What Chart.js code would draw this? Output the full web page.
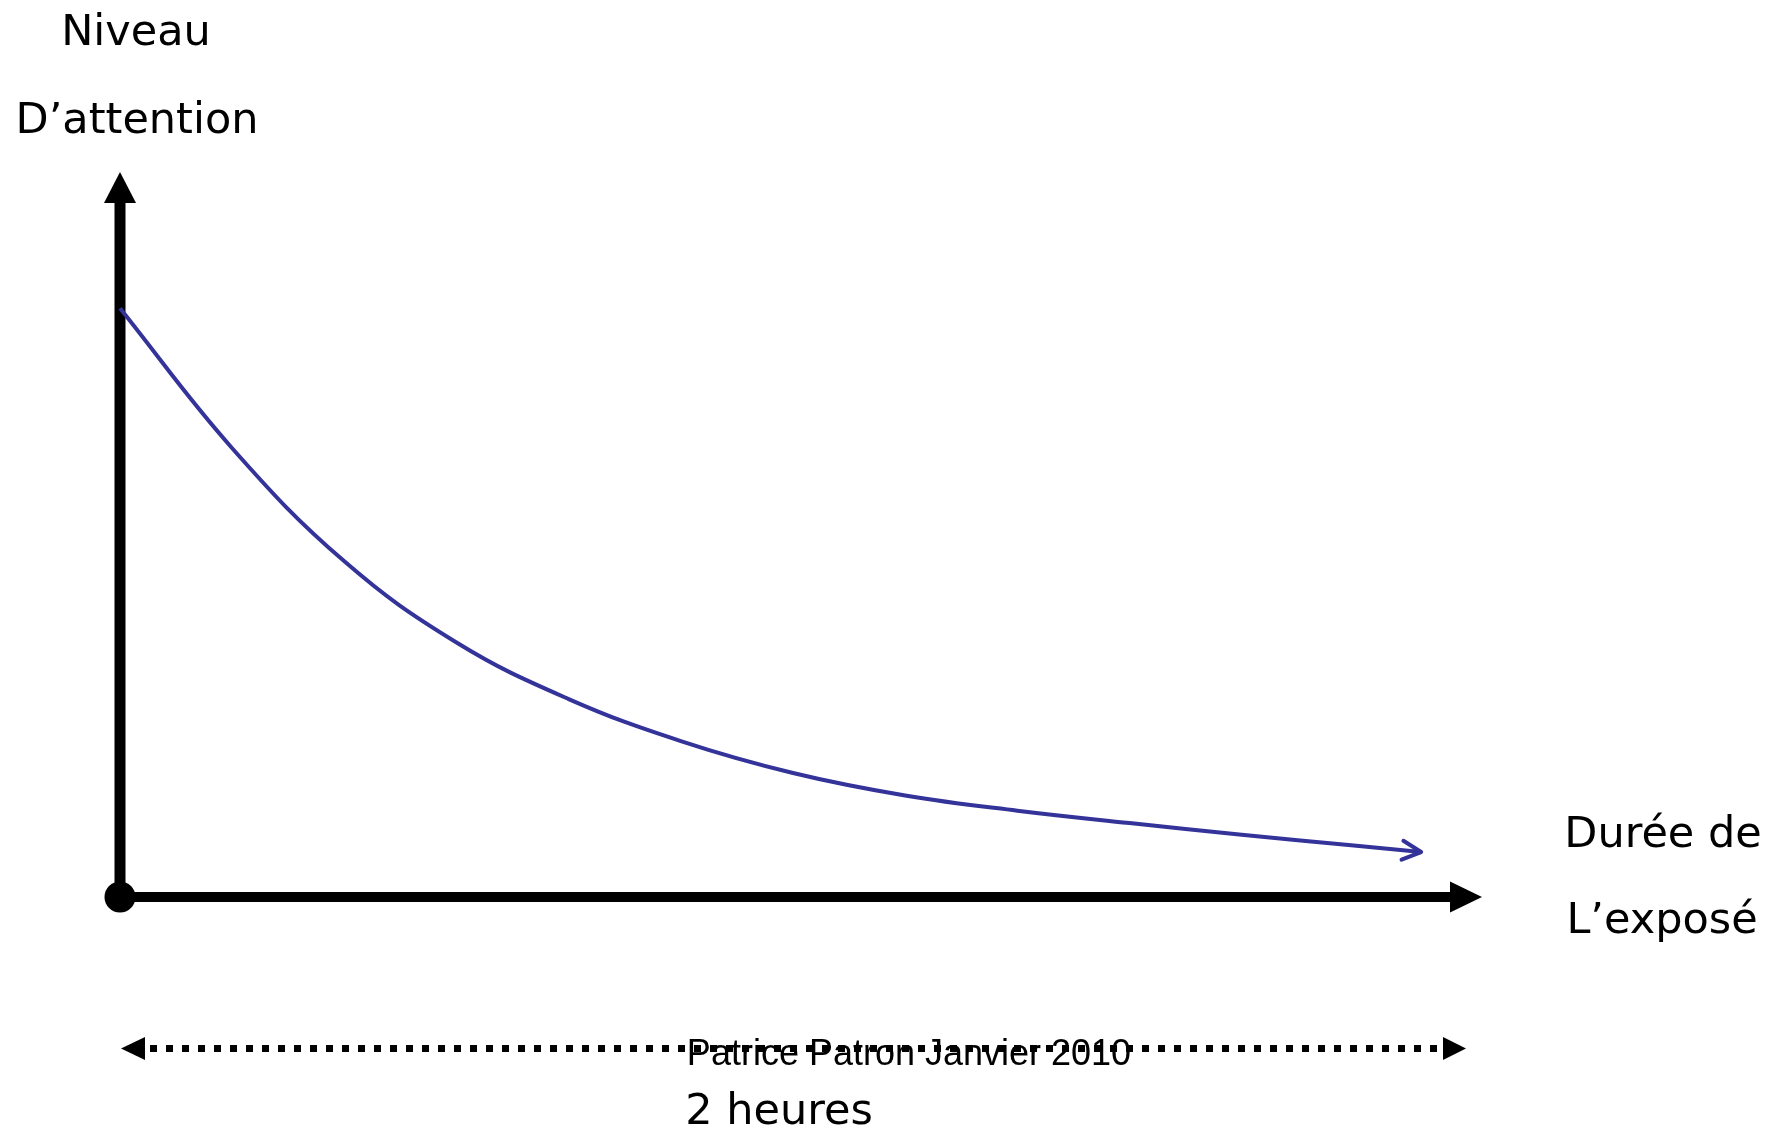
<!DOCTYPE html>
<html>
<head>
<meta charset="utf-8">
<script src="https://cdn.jsdelivr.net/npm/chart.js@4/dist/chart.umd.min.js"></script>
<style>
  html, body { margin: 0; padding: 0; background: #fff; }
  #wrap { width: 1784px; height: 1130px; }
</style>
</head>
<body>
<div id="wrap"><canvas id="attention" width="1784" height="1130"></canvas></div>
<script>
// temps en minutes (2 heures = 120) et niveau d'attention (0-100)
const minutes = [0, 10, 20, 30, 40, 50, 60, 70, 80, 90, 100, 110, 116];
const attention = [81.2, 61.9, 46.3, 35.1, 27.3, 21.5, 17.1, 14, 11.9, 10.2, 8.6, 7.1, 6.2];

const yLabel = ["Niveau", "D\u2019attention"];
const xLabel = ["Durée de", "L\u2019exposé"];
const spanLabel = "2 heures";
const credit = "Patrice Patron Janvier 2010";
const spanMinutes = 120;

const comic = '"Comic Sans MS", "DejaVu Sans", sans-serif';

function arrowHead(ctx, tipX, tipY, angle, len, half) {
  ctx.save();
  ctx.translate(tipX, tipY);
  ctx.rotate(angle);
  ctx.beginPath();
  ctx.moveTo(0, 0);
  ctx.lineTo(-len, -half);
  ctx.lineTo(-len, half);
  ctx.closePath();
  ctx.fill();
  ctx.restore();
}

const schemaPlugin = {
  id: "schema",
  beforeDatasetsDraw(chart) {
    const ctx = chart.ctx;
    const x = chart.scales.x, y = chart.scales.y;
    const ox = x.getPixelForValue(0), oy = y.getPixelForValue(0);
    const top = y.getPixelForValue(100);
    const xEnd = x.getPixelForValue(spanMinutes);

    ctx.save();
    ctx.fillStyle = "#000";
    ctx.strokeStyle = "#000";

    // axe vertical
    ctx.lineWidth = 11;
    ctx.beginPath();
    ctx.moveTo(ox, oy);
    ctx.lineTo(ox, top + 30);
    ctx.stroke();
    arrowHead(ctx, ox, top, -Math.PI / 2, 31, 16);

    // axe horizontal
    ctx.lineWidth = 10;
    ctx.beginPath();
    ctx.moveTo(ox, oy);
    ctx.lineTo(xEnd - 15, oy);
    ctx.stroke();
    arrowHead(ctx, xEnd + 16, oy, 0, 32, 15.5);

    // origine
    ctx.beginPath();
    ctx.arc(ox, oy, 15.5, 0, Math.PI * 2);
    ctx.fill();

    // flèche pointillée "2 heures"
    const dy = oy + 151.5;
    const left = x.getPixelForValue(0) + 1;
    const right = x.getPixelForValue(spanMinutes);
    ctx.lineWidth = 7;
    ctx.setLineDash([7, 9]);
    ctx.beginPath();
    ctx.moveTo(left + 29, dy);
    ctx.lineTo(right - 22, dy);
    ctx.stroke();
    ctx.setLineDash([]);
    arrowHead(ctx, left, dy, Math.PI, 24, 11.5);
    arrowHead(ctx, right, dy, 0, 23, 11.5);
    ctx.restore();
  },
  afterDatasetsDraw(chart) {
    const ctx = chart.ctx;
    const pts = chart.getDatasetMeta(0).data;
    const a = pts[pts.length - 2], b = pts[pts.length - 1];
    const ang = Math.atan2(b.y - a.y, b.x - a.x);
    ctx.save();
    ctx.strokeStyle = "#333399";
    ctx.lineWidth = 4;
    ctx.lineCap = "round";
    ctx.lineJoin = "round";
    ctx.beginPath();
    for (const s of [1, -1]) {
      const t = ang + Math.PI + s * 0.47;
      ctx.moveTo(b.x + 21 * Math.cos(t), b.y + 21 * Math.sin(t));
      ctx.lineTo(b.x, b.y);
    }
    ctx.stroke();

    // textes
    ctx.fillStyle = "#000";
    ctx.textAlign = "center";
    ctx.textBaseline = "alphabetic";
    ctx.font = "43px " + comic;
    ctx.fillText(yLabel[0], 136, 45);
    ctx.fillText(yLabel[1], 137, 133);
    ctx.fillText(xLabel[0], 1663, 847);
    ctx.fillText(xLabel[1], 1662, 933);
    ctx.fillText(spanLabel, 779, 1124);
    ctx.font = '36px "Liberation Sans", Arial, sans-serif';
    ctx.fillText(credit, 909, 1065);
    ctx.restore();
  }
};

new Chart(document.getElementById("attention"), {
  type: "scatter",
  data: {
    datasets: [{
      data: minutes.map((m, i) => ({ x: m, y: attention[i] })),
      showLine: true,
      borderColor: "#333399",
      borderWidth: 4,
      pointRadius: 0,
      tension: 0.4,
      clip: false
    }]
  },
  options: {
    responsive: false,
    animation: false,
    devicePixelRatio: 1,
    layout: { padding: { left: 120, right: 318, top: 172, bottom: 233 } },
    plugins: { legend: { display: false }, tooltip: { enabled: false } },
    scales: {
      x: { type: "linear", min: 0, max: spanMinutes, display: false },
      y: { type: "linear", min: 0, max: 100, display: false }
    }
  },
  plugins: [schemaPlugin]
});
</script>
</body>
</html>
